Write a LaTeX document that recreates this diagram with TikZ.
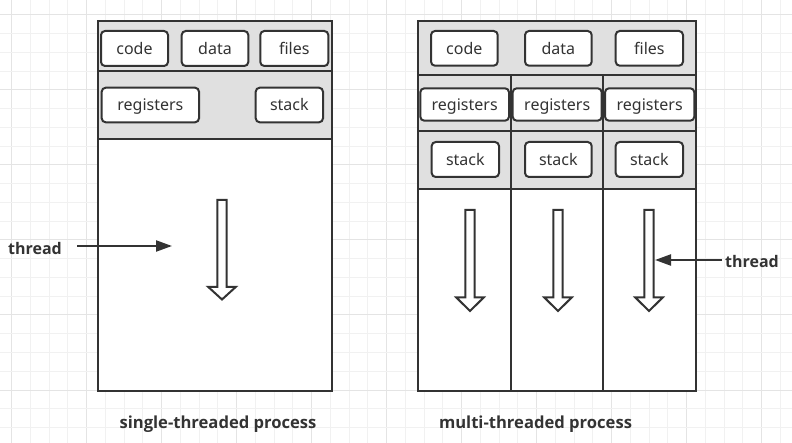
\documentclass[tikz,border=0pt]{standalone}
\usepackage{fontspec}
\setmainfont{Noto Sans}
\newfontfamily\lblfont{Open Sans}
\usetikzlibrary{arrows.meta}
\definecolor{ink}{HTML}{333333}
\definecolor{panel}{HTML}{E0E0E0}
\definecolor{gridminor}{HTML}{F1F1F1}
\definecolor{gridmajor}{HTML}{E4E4E4}
\newcommand\itembox[6]{%
  \pgfmathsetmacro\bw{#4-#2-2}%
  \pgfmathsetmacro\bh{#5-#3-2}%
  \node[item,minimum width=\bw pt,minimum height=\bh pt] (#1) at ({(#2+#4)/2},{(#3+#5)/2}) {#6};}
\newcommand\hollowdown[4]{%
  \draw[hollow] (#1-4.7,#2) -- (#1+4.7,#2) -- (#1+4.7,#3) -- (#1+13.7,#3) -- (#1,#4)
     -- (#1-13.7,#3) -- (#1-4.7,#3) -- cycle;}
\begin{document}
\begin{tikzpicture}[x=1pt,y=-1pt,
  frame/.style={draw=ink,line width=2pt},
  item/.style={draw=ink,line width=2pt,fill=white,rounded corners=4pt,
    font=\fontsize{16}{18}\selectfont,text=ink,inner sep=0pt,
    text height=15pt,text depth=3pt},
  hollow/.style={draw=ink,line width=2pt,fill=white,line join=miter},
  lbl/.style={font=\lblfont\bfseries\fontsize{16}{18}\selectfont,text=ink,inner sep=1pt},
  captiontext/.style={font=\lblfont\bfseries\fontsize{16.6}{19}\selectfont,text=ink,inner sep=1pt},
  threadarrow/.style={draw=ink,line width=2.2pt,-{Triangle[length=16pt,width=11pt]}}]
\useasboundingbox (0,0) rectangle (792,443);
\fill[white] (0,0) rectangle (792,443);
% grid
\foreach \i in {0,...,41}{
  \pgfmathsetmacro\xx{11.7+18.75*\i}
  \pgfmathtruncatemacro\mm{mod(\i,4)}
  \ifnum\mm=0 \draw[gridmajor,line width=1pt] (\xx,0) -- (\xx,443);
  \else \draw[gridminor,line width=1pt] (\xx,0) -- (\xx,443); \fi}
\foreach \i in {0,...,22}{
  \pgfmathsetmacro\yy{15+18.75*\i}
  \pgfmathtruncatemacro\mm{mod(\i,4)}
  \ifnum\mm=0 \draw[gridmajor,line width=1pt] (0,\yy) -- (792,\yy);
  \else \draw[gridminor,line width=1pt] (0,\yy) -- (792,\yy); \fi}

% ---------- single-threaded process ----------
\draw[frame,fill=panel] (98,21) rectangle (331.5,71);
\draw[frame,fill=panel] (98,71) rectangle (331.5,139);
\draw[frame,fill=white] (98,139) rectangle (331.5,391);
\draw[ink,line width=2.8pt] (98,139) -- (331.5,139);
\itembox{scode}{100}{30}{169}{67}{code}
\itembox{sdata}{180.7}{30}{249.3}{67}{data}
\itembox{sfiles}{259.3}{30}{329.3}{67}{files}
\itembox{sreg}{100.7}{86.7}{200}{123.3}{registers}
\itembox{sstack}{254.7}{86.7}{324}{123.3}{stack}
\hollowdown{222}{200}{287}{299.5}

\node[lbl,anchor=east] (sthread) at (63,248.5) {thread};
\coordinate (stip) at (172,246);
\draw[threadarrow] (sthread.east |- stip) ++(14,0) -- (stip);

% ---------- multi-threaded process ----------
\draw[frame,fill=panel] (418,21) rectangle (696,75);
\draw[frame,fill=panel] (418,75) rectangle (511,131);
\draw[frame,fill=panel] (511,75) rectangle (603,131);
\draw[frame,fill=panel] (603,75) rectangle (696,131);
\draw[frame,fill=panel] (418,131) rectangle (511,189);
\draw[frame,fill=panel] (511,131) rectangle (603,189);
\draw[frame,fill=panel] (603,131) rectangle (696,189);
\draw[frame,fill=white] (418,189) rectangle (511,391);
\draw[frame,fill=white] (511,189) rectangle (603,391);
\draw[frame,fill=white] (603,189) rectangle (696,391);
\draw[ink,line width=2.8pt] (418,189) -- (696,189);
\itembox{mcode}{430}{30}{498.7}{66.7}{code}
\itembox{mdata}{524}{30}{592.7}{66.7}{data}
\itembox{mfiles}{614.7}{30}{684}{66.7}{files}
\itembox{mreg1}{419.3}{87.3}{510}{121.7}{registers}
\itembox{mreg2}{511.7}{87.3}{602.7}{121.7}{registers}
\itembox{mreg3}{604}{87.3}{695.3}{121.7}{registers}
\itembox{mstack1}{430.7}{141}{500}{178}{stack}
\itembox{mstack2}{524}{141}{592.7}{178}{stack}
\itembox{mstack3}{614.7}{141}{684}{178}{stack}
\hollowdown{470}{210}{297.5}{311}
\hollowdown{558}{210}{297.5}{311}
\hollowdown{649}{210}{297.5}{311}

\node[lbl,anchor=west] (mthread) at (724,261.5) {thread};
\coordinate (mtip) at (655,260);
\draw[threadarrow] (mthread.west |- mtip) ++(-2,0) -- (mtip);

% captions
\node[captiontext] (scap) at (218,424.5) {single-threaded process};
\node[captiontext] (mcap) at (535.5,424.5) {multi-threaded process};
\end{tikzpicture}
\end{document}
